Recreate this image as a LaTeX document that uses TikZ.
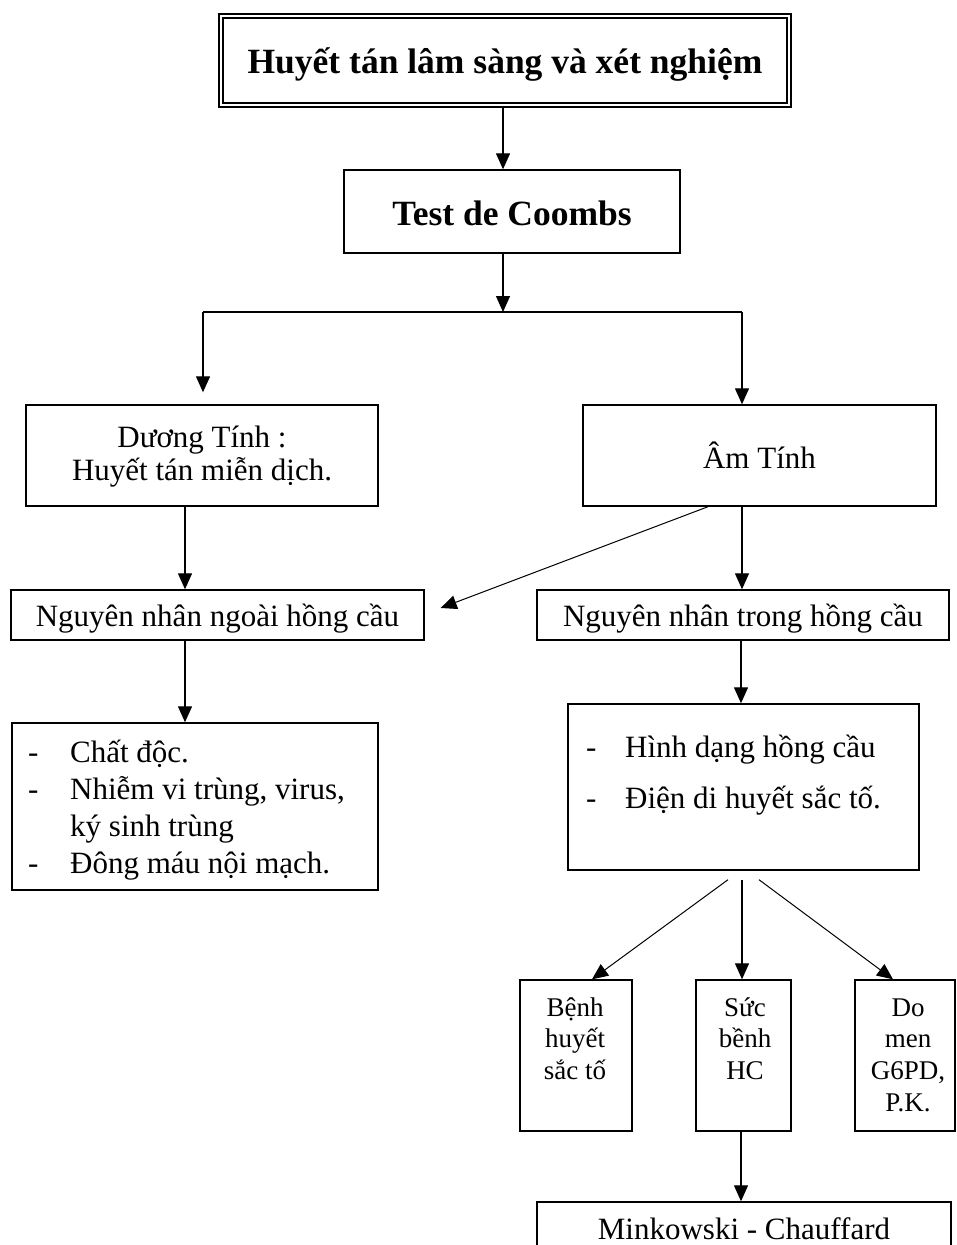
\documentclass[tikz,border=0pt]{standalone}
\usepackage{fontspec}
\setmainfont{Liberation Serif}
\usetikzlibrary{arrows.meta}
% centred stack of lines with struts, lowered inside an unchanged box
\newcommand\boxlines[2][4pt]{\raisebox{-#1}[\height][\depth]{\begin{tabular}{@{}c@{}}#2\end{tabular}}}
\begin{document}
\begin{tikzpicture}[x=1pt,y=-1pt,
  box/.style={draw, line width=1.4pt, inner sep=0pt, align=center},
  arr/.style={line width=1.3pt, -{Triangle[width=14pt,length=16pt]}},
  thinarr/.style={line width=1pt, -{Triangle[width=14pt,length=16pt]}},
  link/.style={line width=1.3pt},
  head/.style={font=\bfseries\fontsize{35.5}{40}\selectfont},
  body/.style={font=\fontsize{31}{33}\selectfont},
  small/.style={font=\fontsize{27}{31.7}\selectfont, inner sep=0pt, anchor=north},
  listtext/.style={inner sep=0pt, anchor=north west},
]
\useasboundingbox (0,0) rectangle (956,1245);
\clip (0,0) rectangle (956,1245);

% --- boxes ---
\node[box, double, double distance=2.5pt, line width=1.8pt,
      minimum width=568pt, minimum height=89pt, head] (title) at (505,60.5)
  {\boxlines[5pt]{Huyết tán lâm sàng và xét nghiệm}};
\node[box, minimum width=336pt, minimum height=83pt, head] (coombs) at (512,211.5)
  {\boxlines[6pt]{Test de Coombs}};
\node[box, minimum width=352pt, minimum height=101pt, body] (dpos) at (202,455.5)
  {\boxlines[2pt]{Dương Tính :\\Huyết tán miễn dịch.}};
\node[box, minimum width=353pt, minimum height=101pt, body] (dneg) at (759.5,455.5)
  {\boxlines[5pt]{Âm Tính}};
\node[box, minimum width=413pt, minimum height=50pt, body] (ngoai) at (217.5,615)
  {\boxlines[5pt]{Nguyên nhân ngoài hồng cầu}};
\node[box, minimum width=412pt, minimum height=50pt, body] (trong) at (743,615)
  {\boxlines[5pt]{Nguyên nhân trong hồng cầu}};

\node[box, minimum width=366pt, minimum height=167pt] (list1) at (195,806.5) {};
\node[listtext, font=\fontsize{31}{36.7}\selectfont] (list1txt) at (28,737)
  {\begin{tabular}{@{}p{42pt}@{}l@{}}
   - & Chất độc.\\
   - & Nhiễm vi trùng, virus,\\
     & ký sinh trùng\\
   - & Đông máu nội mạch.
   \end{tabular}};

\node[box, minimum width=351pt, minimum height=166pt] (list2) at (743.5,787) {};
\node[listtext, font=\fontsize{31}{51}\selectfont] (list2txt) at (586,721.5)
  {\begin{tabular}{@{}p{39pt}@{}l@{}}
   - & Hình dạng hồng cầu\\
   - & Điện di huyết sắc tố.
   \end{tabular}};

\node[box, minimum width=112pt, minimum height=151pt] (b1) at (576,1055.5) {};
\node[box, minimum width=95pt, minimum height=151pt] (b2) at (743.5,1055.5) {};
\node[box, minimum width=100pt, minimum height=151pt] (b3) at (905,1055.5) {};
\node[small] (b1txt) at (575,993.6) {\boxlines[0pt]{Bệnh\\huyết\\sắc tố}};
\node[small] (b2txt) at (745,993.6) {\boxlines[0pt]{Sức\\bềnh\\HC}};
\node[small] (b3txt) at (908,993.6) {\boxlines[0pt]{Do\\men\\G6PD,\\P.K.}};

\node[box, minimum width=414pt, minimum height=52pt, body] (mink) at (744,1228)
  {\boxlines[5pt]{Minkowski - Chauffard}};

% --- connectors ---
\coordinate (trunk) at (503,312);
\coordinate (lbr) at (203,312);
\coordinate (rbr) at (742,312);
\coordinate (colA) at (185,0);
\coordinate (colC) at (741,0);

\draw[arr] (title.south -| trunk) -- (coombs.north -| trunk);
\draw[arr] (coombs.south -| trunk) -- (trunk);
\draw[link] (lbr) -- (rbr);
\draw[arr, shorten >=12pt] (lbr) -- (lbr |- dpos.north);
\draw[arr] (rbr) -- (rbr |- dneg.north);

\draw[arr] (dpos.south -| colA) -- (ngoai.north -| colA);
\draw[arr] (dneg.south -| rbr) -- (trong.north -| rbr);
\draw[thinarr] ([xshift=-51.5pt]dneg.south) -- ([xshift=16pt,yshift=7pt]ngoai.east);

\draw[arr] (ngoai.south -| colA) -- (list1.north -| colA);
\draw[arr] (trong.south -| colC) -- (list2.north -| colC);

\draw[thinarr] ([xshift=-15.5pt,yshift=-9pt]list2.south) -- ([xshift=16pt]b1.north);
\draw[arr] ([xshift=-1.5pt,yshift=-9pt]list2.south) -- ([xshift=-1.5pt]b2.north);
\draw[thinarr] ([xshift=15.5pt,yshift=-9pt]list2.south) -- ([xshift=-12pt]b3.north);

\draw[arr] (b2.south -| colC) -- (mink.north -| colC);
\end{tikzpicture}
\end{document}
